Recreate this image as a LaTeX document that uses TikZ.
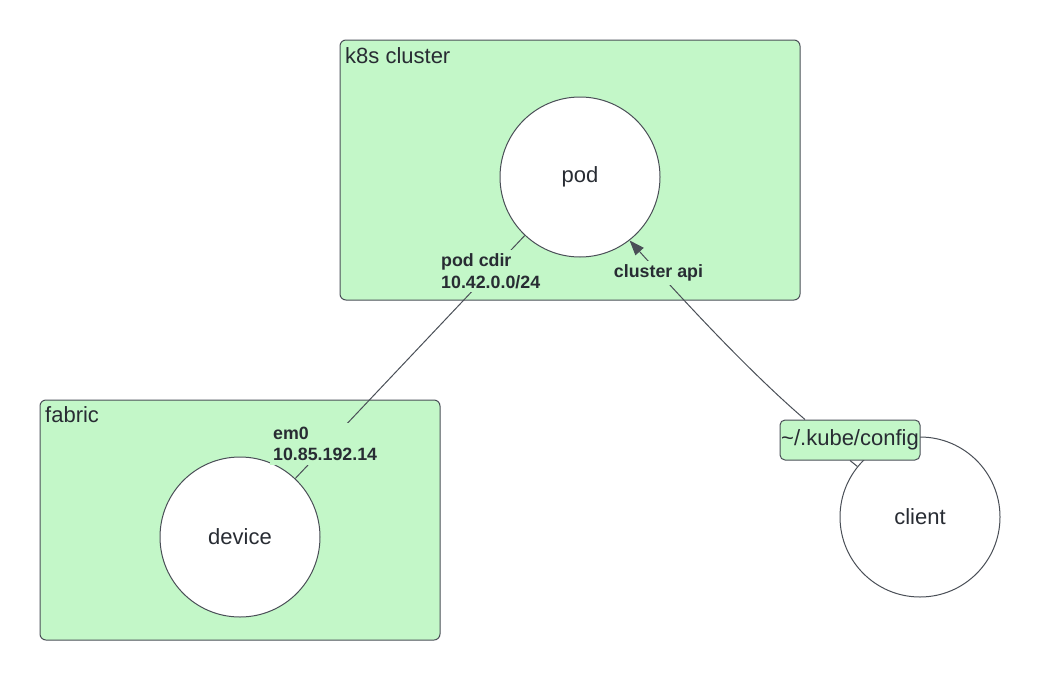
\documentclass[tikz,border=0pt]{standalone}
\usepackage{fontspec}
\setmainfont{Liberation Sans}
\usetikzlibrary{arrows.meta}
\definecolor{gfill}{HTML}{C3F7C8}
\definecolor{edge}{HTML}{4A4F57}
\definecolor{txt}{HTML}{282C33}
\tikzset{
  grp/.style={draw=edge, line width=1pt, fill=gfill, rounded corners=6pt},
  circ/.style={circle, draw=edge, line width=1pt, fill=white, minimum size=160pt, inner sep=0pt,
               font=\fontsize{22}{26}\selectfont, text=txt},
  ttl/.style={anchor=base west, inner sep=0pt, font=\fontsize{22}{26}\selectfont, text=txt},
  lbl/.style={fill=gfill, align=left, inner xsep=3pt, inner ysep=4pt, text=txt,
              font=\fontsize{17.8}{21.5}\selectfont\bfseries},
  conn/.style={draw=edge, line width=1pt},
  cfgbox/.style={draw=edge, line width=1pt, fill=gfill, rounded corners=5pt,
                 minimum width=140pt, minimum height=40pt, inner sep=0pt,
                 font=\fontsize{22}{26}\selectfont, text=txt}
}
\begin{document}
\begin{tikzpicture}[x=1pt, y=-1pt]
\useasboundingbox (0,0) rectangle (1040,680);
% groups
\draw[grp] (340,40) rectangle (800,300);
\node[ttl] (k8s) at (345,63) {k8s cluster};
\draw[grp] (40,400) rectangle (440,640);
\node[ttl] (fab) at (45,422) {fabric};
% circles
\node[circ] (pod) at (580,177) {pod};
\node[circ] (device) at (240,537) {device};
\node[circ] (client) at (920,517) {client};
% config box
\node[cfgbox] (cfg) at (850,440) {\textasciitilde/.kube/config};
% connectors
\draw[conn] (pod) -- (device);
\node[lbl, anchor=west] (cdir) at (438,271) {pod cdir\\10.42.0.0/24};
\node[lbl, anchor=west] (em0) at (270,444) {em0\\10.85.192.14};
\draw[conn, -{Triangle[length=15pt,width=11pt]}] ([xshift=-45pt]cfg.north) .. controls (745,368) and (676,292) .. (pod.-52);
\node[lbl] (api) at (658.5,273) {cluster api};
\draw[conn] (cfg.south) -- (client);
\end{tikzpicture}
\end{document}
